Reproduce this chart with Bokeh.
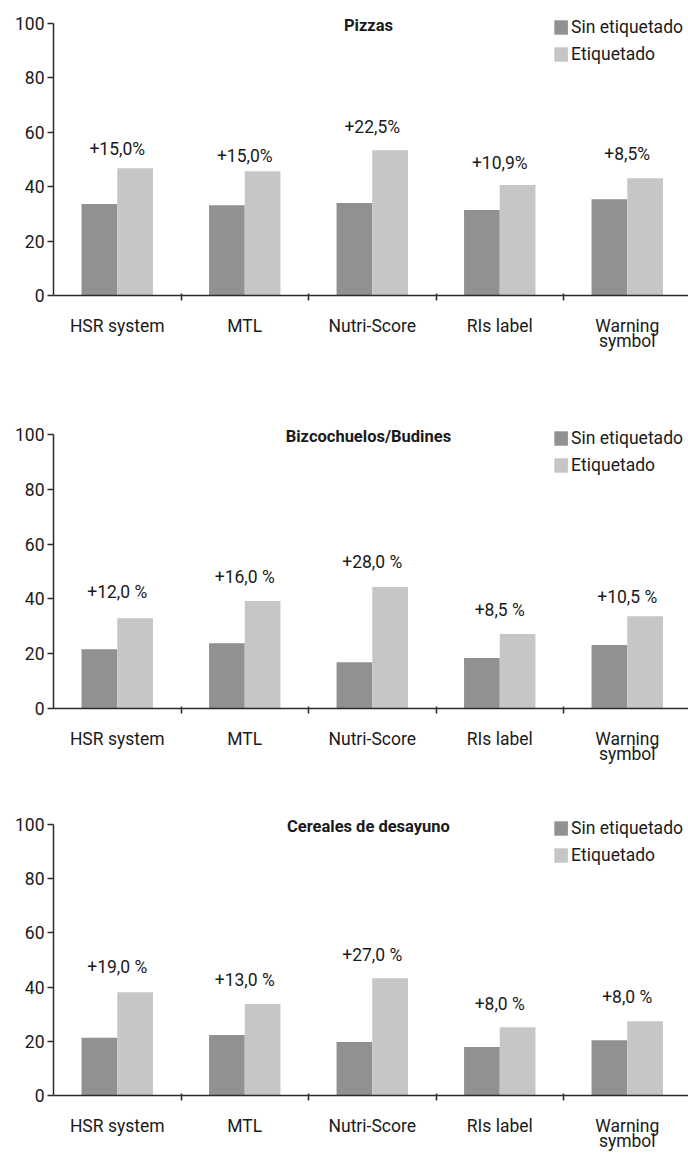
from bokeh.plotting import figure
from bokeh.layouts import column
from bokeh.models import (ColumnDataSource, FixedTicker, Range1d, Legend, LegendItem, Label)
from bokeh.transform import dodge
from bokeh.core.properties import value
from bokeh.embed import file_html
from bokeh.resources import INLINE

categories = ["HSR system", "MTL", "Nutri-Score", "RIs label", "Warning\nsymbol"]
series_names = ["Sin etiquetado", "Etiquetado"]
y_ticks = [0, 20, 40, 60, 80, 100]

titles = ["Pizzas", "Bizcochuelos/Budines", "Cereales de desayuno"]

sin_pizzas = [33.6, 33.2, 34.0, 31.4, 35.4]
con_pizzas = [46.8, 45.7, 53.4, 40.6, 43.1]
dif_pizzas = ["+15,0%", "+15,0%", "+22,5%", "+10,9%", "+8,5%"]
pos_pizzas = [53.8, 51.2, 61.9, 48.7, 52.0]

sin_bizco = [21.6, 23.8, 16.9, 18.4, 23.2]
con_bizco = [32.9, 39.2, 44.3, 27.2, 33.7]
dif_bizco = ["+12,0 %", "+16,0 %", "+28,0 %", "+8,5 %", "+10,5 %"]
pos_bizco = [42.6, 48.0, 53.3, 35.9, 40.7]

sin_cereal = [21.3, 22.3, 19.7, 17.9, 20.4]
con_cereal = [38.1, 33.7, 43.2, 25.2, 27.4]
dif_cereal = ["+19,0 %", "+13,0 %", "+27,0 %", "+8,0 %", "+8,0 %"]
pos_cereal = [47.4, 42.5, 51.7, 33.9, 36.5]

DARK = "#919191"
LIGHT = "#c6c6c6"
INK = "#1a1a1a"
AXIS = "#2b2b2b"
FONT = "Roboto"
FS = "17.5px"

panels = [
    (titles[0], sin_pizzas, con_pizzas, dif_pizzas, pos_pizzas, 413, 12, 118),
    (titles[1], sin_bizco, con_bizco, dif_bizco, pos_bizco, 387, 10, 92),
    (titles[2], sin_cereal, con_cereal, dif_cereal, pos_cereal, 353, 13, 57),
]

W = 688
LEFT = 53
CAT_PX = 127.5
BAR_W = 0.28


def make_panel(title, sin, con, dif, pos, h, top, bottom):
    n = len(categories)
    centers = [i + 0.5 for i in range(n)]
    x_end = (W - LEFT) / CAT_PX
    p = figure(width=W, height=h, output_backend="svg", toolbar_location=None,
               x_range=Range1d(0, x_end), y_range=Range1d(0, 104),
               min_border_left=LEFT, min_border_right=0,
               min_border_top=top, min_border_bottom=bottom)
    p.outline_line_color = None
    p.grid.visible = False
    p.background_fill_color = "white"
    p.border_fill_color = "white"

    src = ColumnDataSource(dict(x=centers, sin=sin, con=con, dif=dif, pos=pos))
    r1 = p.vbar(x=dodge("x", -BAR_W / 2, range=p.x_range), top="sin", width=BAR_W,
                bottom=0, source=src, fill_color=DARK, line_color=None)
    r2 = p.vbar(x=dodge("x", BAR_W / 2, range=p.x_range), top="con", width=BAR_W,
                bottom=0, source=src, fill_color=LIGHT, line_color=None)
    p.text(x="x", y="pos", text="dif", source=src, text_align="center",
           text_baseline="middle", text_font=value(FONT), text_font_size=FS,
           text_color=INK)

    # x axis
    xa = p.xaxis[0]
    xa.ticker = FixedTicker(ticks=centers, minor_ticks=[i for i in range(1, n)])
    xa.major_label_overrides = {c: lab for c, lab in zip(centers, categories)}
    xa.major_tick_line_color = None
    xa.major_tick_out = 0
    xa.major_tick_in = 0
    xa.minor_tick_out = 5
    xa.minor_tick_in = 2
    xa.minor_tick_line_color = AXIS
    xa.minor_tick_line_width = 1.5
    xa.axis_line_color = AXIS
    xa.axis_line_width = 1.5
    xa.major_label_standoff = 15
    xa.major_label_text_font = FONT
    xa.major_label_text_font_size = FS
    xa.major_label_text_line_height = 0.75
    xa.major_label_text_color = INK

    # y axis
    ya = p.yaxis[0]
    ya.ticker = FixedTicker(ticks=y_ticks)
    ya.bounds = (0, 100)
    ya.minor_tick_line_color = None
    ya.major_tick_out = 6
    ya.major_tick_in = 0
    ya.major_tick_line_color = AXIS
    ya.major_tick_line_width = 1.5
    ya.axis_line_color = AXIS
    ya.axis_line_width = 1.5
    ya.major_label_standoff = 3
    ya.major_label_text_font = FONT
    ya.major_label_text_font_size = FS
    ya.major_label_text_color = INK

    p.add_layout(Label(x=2.47, y=100, text=title, text_align="center",
                       text_baseline="middle", y_offset=-2,
                       text_font=FONT, text_font_size="16.5px",
                       text_font_style="bold", text_color=INK))

    leg = Legend(items=[LegendItem(label=series_names[0], renderers=[r1]),
                        LegendItem(label=series_names[1], renderers=[r2])],
                 location="top_right", margin=0, padding=5, spacing=7,
                 glyph_width=17, glyph_height=18, label_height=18,
                 label_standoff=2, label_text_font=FONT,
                 label_text_font_size=FS, label_text_color=INK,
                 background_fill_alpha=0, border_line_alpha=0)
    p.add_layout(leg)
    return p


figs = [make_panel(*args) for args in panels]
layout = column(*figs, spacing=0)

open("out.html", "w").write(file_html(layout, INLINE))
